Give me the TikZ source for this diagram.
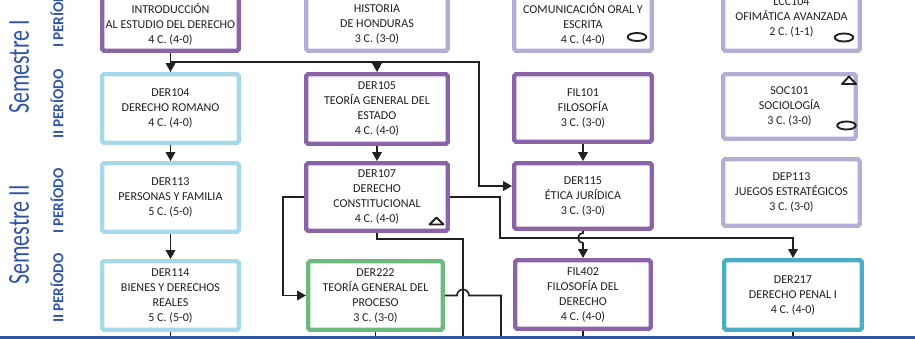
\documentclass[tikz,border=0pt]{standalone}
\usepackage{fontspec}
\setmainfont{Carlito}
\usepackage{graphicx}
\usetikzlibrary{shapes,arrows.meta}
\definecolor{oscuro}{HTML}{8B64A8}
\definecolor{lila}{HTML}{B6ADD7}
\definecolor{celeste}{HTML}{A6D8EA}
\definecolor{verde}{HTML}{6DBA7E}
\definecolor{turquesa}{HTML}{4AADC6}
\definecolor{azul}{HTML}{2F55A4}
\definecolor{tinta}{HTML}{231F20}

\begin{document}
\begin{tikzpicture}[x=0.03cm,y=-0.03cm]
        \tikzstyle{curso}=[rectangle,draw,line width=3.8pt,rounded corners=1.5pt,align=center,inner sep=0pt,
          minimum width=4.095cm,minimum height=2.055cm,text=tinta,font=\fontsize{10.3}{12.8}\selectfont]
        \tikzstyle{fuerte}=[curso,draw=oscuro]
        \tikzstyle{suave}=[curso,draw=lila]
        \tikzstyle{basico}=[curso,draw=celeste]
        \tikzstyle{linea}=[draw=tinta,line width=1.4pt]
        \tikzstyle{flecha}=[linea,-{Triangle[length=7.5pt,width=8pt]}]
        \tikzstyle{marca}=[draw=tinta,line width=1.6pt,line join=round]
        \tikzstyle{semestre}=[rotate=90,text=azul,inner sep=0pt,font=\fontsize{26}{26}\selectfont]
        \tikzstyle{periodo}=[rotate=90,text=azul,inner sep=0pt,font=\bfseries\fontsize{13}{13}\selectfont]
        \useasboundingbox (0,0) rectangle (915,339);
        \clip (0,0) rectangle (915,339);

        % semestres y periodos
        \node[semestre] (sem1) at (19,67) {\scalebox{0.72}[1]{Semestre I}};
        \node[semestre] (sem2) at (19,235) {\scalebox{0.72}[1]{Semestre II}};
        \node[periodo] (per1) at (57,15) {I\,PERÍODO};
        \node[periodo] (per2) at (57,104) {II\,PERÍODO};
        \node[periodo] (per3) at (57,201) {I\,PERÍODO};
        \node[periodo] (per4) at (57,288) {II\,PERÍODO};

        % primera fila
        \node[fuerte,minimum height=1.605cm] (intro) at (170.5,24) {INTRODUCCIÓN\\AL ESTUDIO DEL DERECHO\\4 C. (4-0)};
        \node[suave,minimum width=4.245cm,minimum height=1.605cm] (hist) at (377,24) {HISTORIA\\DE HONDURAS\\3 C. (3-0)};
        \node[suave,minimum width=4.125cm,minimum height=1.605cm] (comu) at (583,24) {COMUNICACIÓN ORAL Y\\ESCRITA\\4 C. (4-0)};
        \node[suave,minimum height=2.025cm] (ofim) at (791.5,17) {LCC104\\OFIMÁTICA AVANZADA\\2 C. (1-1)};

        % segunda fila
        \node[basico] (der104) at (170.5,108.5) {DER104\\DERECHO ROMANO\\4 C. (4-0)};
        \node[fuerte,minimum width=4.245cm,minimum height=2.085cm] (der105) at (377,109) {DER105\\TEORÍA GENERAL DEL\\ESTADO\\4 C. (4-0)};
        \node[fuerte,minimum width=4.125cm,minimum height=2.025cm] (fil101) at (583,108) {FIL101\\FILOSOFÍA\\3 C. (3-0)};
        \node[suave,minimum width=3.975cm,minimum height=1.935cm] (soc101) at (789.5,106.5) {SOC101\\SOCIOLOGÍA\\3 C. (3-0)};

        % tercera fila
        \node[basico] (der113) at (170.5,197.5) {DER113\\PERSONAS Y FAMILIA\\5 C. (5-0)};
        \node[fuerte,minimum width=4.245cm,minimum height=2.025cm] (der107) at (377,197) {DER107\\DERECHO\\CONSTITUCIONAL\\4 C. (4-0)};
        \node[fuerte,minimum width=4.125cm,minimum height=1.965cm] (der115) at (583,196) {DER115\\ÉTICA JURÍDICA\\3 C. (3-0)};
        \node[suave,minimum height=1.995cm] (dep113) at (791.5,192.5) {DEP113\\JUEGOS ESTRATÉGICOS\\3 C. (3-0)};

        % cuarta fila
        \node[basico] (der114) at (170.5,295.5) {DER114\\BIENES Y DERECHOS\\REALES\\5 C. (5-0)};
        \node[curso,draw=verde,minimum width=4.035cm] (der222) at (375.5,295.5) {DER222\\TEORÍA GENERAL DEL\\PROCESO\\3 C. (3-0)};
        \node[fuerte,minimum width=4.065cm] (fil402) at (583,294.5) {FIL402\\FILOSOFÍA DEL\\DERECHO\\4 C. (4-0)};
        \node[curso,draw=turquesa,minimum width=4.125cm,minimum height=2.085cm] (der217) at (793,295) {DER217\\DERECHO PENAL I\\4 C. (4-0)};

        % marcas
        \draw[marca] (637,37) ellipse (0.28cm and 0.12cm);
        \draw[marca] (844,37.5) ellipse (0.28cm and 0.12cm);
        \draw[marca] (846.5,125.5) ellipse (0.28cm and 0.12cm);
        \draw[marca] (849,76.5) -- (856,84) -- (842,84) -- cycle;
        \draw[marca] (436.5,217.5) -- (443.5,224.5) -- (429.5,224.5) -- cycle;

        % requisitos
        \coordinate (giro) at (479,62);
        \coordinate (cruce) at (500,238);
        \draw[flecha] (intro) -- (der104);
        \draw[flecha] (der104) -- (der113);
        \draw[flecha] (der113) -- (der114);
        \draw[flecha] (der105) -- (der107);
        \draw[flecha] (fil101) -- (der115);
        \draw[flecha] (intro.south |- giro) -- (giro) |- ([yshift=0.3cm]der115.west);
        \draw[flecha] (der105.north |- giro) -- (der105.north);
        \draw[flecha] (der107.west) -- ++(-21,0) |- (der222.west);
        \draw[flecha] (der107.east) -| (cruce) -| (der217.north);
        \draw[flecha] (der115.south) -- ++(0,2) arc[start angle=90,end angle=270,radius=0.15cm] -- (fil402.north);
        \draw[linea] (der107.south) -- ++(0,6) -| (463,345);
        \draw[linea] (der222.east) -- ++(12,0) arc[start angle=180,end angle=0,radius=0.18cm] -| (501,345);
        \foreach \n in {der114,der222,fil402,der217}
          \draw[linea] (\n.south) -- ++(0,12);
        \draw[azul,line width=1.8pt] (0,337.5) -- (915,337.5);
\end{tikzpicture}
\end{document}
